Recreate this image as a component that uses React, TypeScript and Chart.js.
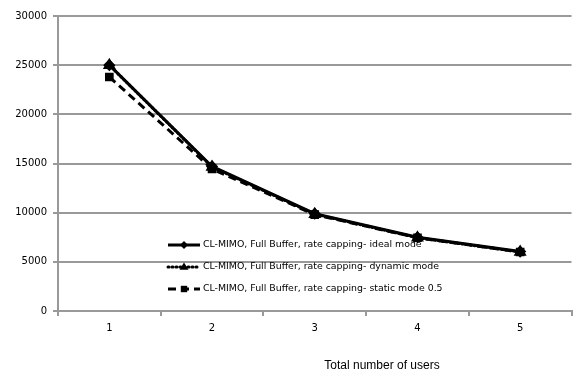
import React, { useEffect, useRef } from "react";
import { Chart, registerables } from "chart.js";

Chart.register(...registerables);

const categories = ["1", "2", "3", "4", "5"];
const idealMode = [25000, 14700, 9900, 7500, 6050];
const dynamicMode = [25000, 14650, 9850, 7450, 6000];
const staticMode = [23800, 14450, 9800, 7450, 6000];
const seriesNames = [
  "CL-MIMO, Full Buffer, rate capping- ideal mode",
  "CL-MIMO, Full Buffer, rate capping- dynamic mode",
  "CL-MIMO, Full Buffer, rate capping- static mode 0.5",
];
const xTitle = "Total number of users";

const legendPlugin = {
  id: "customLegend",
  afterDraw(chart: any) {
    const { ctx, chartArea } = chart;
    const x0 = chartArea.left + 110;
    const rows = [chartArea.top + 229, chartArea.top + 251, chartArea.top + 273];
    ctx.save();
    chart.data.datasets.forEach((ds: any, i: number) => {
      const y = rows[i];
      ctx.strokeStyle = "#000";
      ctx.lineWidth = ds.borderWidth;
      ctx.lineCap = ds.borderCapStyle || "butt";
      ctx.setLineDash(ds.borderDash || []);
      ctx.beginPath();
      ctx.moveTo(x0, y);
      ctx.lineTo(x0 + 32, y);
      ctx.stroke();
      ctx.setLineDash([]);
      ctx.fillStyle = "#000";
      const cx = x0 + 16;
      const r = ds.pointRadius;
      ctx.beginPath();
      if (ds.pointStyle === "rectRot") {
        ctx.moveTo(cx, y - r);
        ctx.lineTo(cx + r, y);
        ctx.lineTo(cx, y + r);
        ctx.lineTo(cx - r, y);
      } else if (ds.pointStyle === "triangle") {
        ctx.moveTo(cx, y - r);
        ctx.lineTo(cx + r, y + r * 0.6);
        ctx.lineTo(cx - r, y + r * 0.6);
      } else {
        ctx.rect(cx - r * 0.8, y - r * 0.8, r * 1.6, r * 1.6);
      }
      ctx.closePath();
      ctx.fill();
      ctx.font = "9.4px 'DejaVu Sans'";
      ctx.fillStyle = "#000";
      ctx.textBaseline = "middle";
      ctx.textAlign = "left";
      ctx.fillText(ds.label, x0 + 35, y);
    });
    ctx.font = "12px 'Liberation Sans'";
    ctx.fillStyle = "#000";
    ctx.textAlign = "center";
    ctx.textBaseline = "middle";
    ctx.fillText(xTitle, chartArea.left + 324, chartArea.bottom + 55);
    ctx.restore();
  },
};

export default function App() {
  const ref = useRef<HTMLCanvasElement>(null);
  useEffect(() => {
    document.body.style.margin = "0";
    const chart = new Chart(ref.current!, {
      type: "line",
      data: {
        labels: categories,
        datasets: [
          {
            label: seriesNames[0],
            data: idealMode,
            borderColor: "#000",
            backgroundColor: "#000",
            borderWidth: 3,
            pointStyle: "rectRot",
            pointRadius: 4,
            tension: 0,
          },
          {
            label: seriesNames[1],
            data: dynamicMode,
            borderColor: "#000",
            backgroundColor: "#000",
            borderWidth: 3,
            borderDash: [1, 3],
            borderCapStyle: "round",
            pointStyle: "triangle",
            pointRadius: 4.5,
            tension: 0,
          },
          {
            label: seriesNames[2],
            data: staticMode,
            borderColor: "#000",
            backgroundColor: "#000",
            borderWidth: 3,
            borderDash: [8, 5],
            pointStyle: "rect",
            pointRadius: 4,
            tension: 0,
          },
        ],
      },
      options: {
        animation: false,
        responsive: false,
        layout: { padding: { top: 16, right: 4, bottom: 34, left: 0 } },
        plugins: { legend: { display: false }, tooltip: { enabled: false } },
        scales: {
          x: {
            type: "category",
            offset: true,
            grid: {
              offset: true,
              drawOnChartArea: false,
              color: "#999",
              lineWidth: 2,
              tickLength: 5,
            },
            border: { color: "#999", width: 2 },
            ticks: { color: "#000", font: { size: 10, family: "'DejaVu Sans'" }, padding: 6 },
          },
          y: {
            min: 0,
            max: 30000,
            afterFit: (s: any) => {
              s.width = 58;
            },
            grid: { color: "#999", lineWidth: 2, tickLength: 5 },
            border: { color: "#999", width: 2 },
            ticks: {
              stepSize: 5000,
              color: "#000",
              font: { size: 10, family: "'DejaVu Sans'" },
              padding: 6,
              callback: (v: any) => String(v),
            },
          },
        },
      },
      plugins: [legendPlugin],
    });
    return () => chart.destroy();
  }, []);
  return (
    <canvas ref={ref} width={579} height={374} style={{ display: "block", width: 579, height: 374 }} />
  );
}
